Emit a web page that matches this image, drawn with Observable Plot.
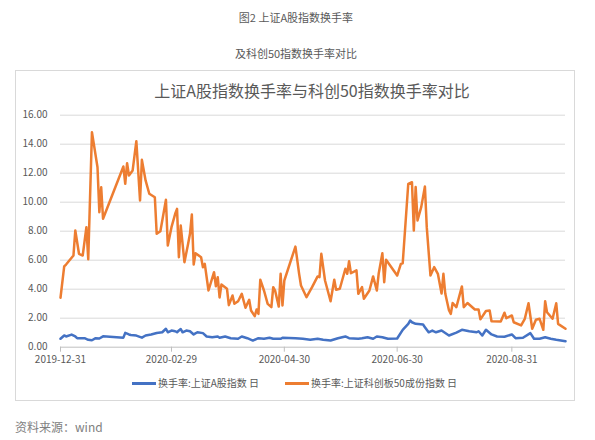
<!DOCTYPE html>
<html>
<head>
<meta charset="utf-8">
<script src="https://cdn.jsdelivr.net/npm/d3@7"></script>
<script src="https://cdn.jsdelivr.net/npm/@observablehq/plot@0.6"></script>
<style>
  html, body { margin: 0; padding: 0; background: #fff; }
  body { width: 595px; height: 440px; position: relative; overflow: hidden;
         font-family: "Noto Sans CJK SC", "Noto Sans", sans-serif; color: #595959; }
  .abs { position: absolute; white-space: nowrap; }
  #cap1, #cap2 { left: 0; width: 592px; text-align: center; font-size: 11px; line-height: 14px; color: #595959; }
  #cap1 { top: 10px; }
  #cap2 { top: 46px; }
  #frame { left: 15px; top: 70px; width: 558px; height: 329px; border: 1px solid #d9d9d9; }
  #title { left: 0; width: 624px; text-align: center; top: 79px; font-size: 16px; line-height: 22px; color: #595959; }
  #chart { left: 0; top: 100px; }
  .leg { top: 376px; font-size: 10px; line-height: 14px; color: #595959; display: flex; align-items: center; }
  .sw { display: inline-block; width: 24px; height: 3px; margin-right: 2px; }
  #footer { left: 15px; top: 419px; font-size: 12px; line-height: 16px; color: #808080; }
</style>
</head>
<body>
<div id="cap1" class="abs">图2 上证A股指数换手率</div>
<div id="cap2" class="abs">及科创50指数换手率对比</div>
<div id="frame" class="abs"></div>
<div id="title" class="abs">上证A股指数换手率与科创50指数换手率对比</div>
<div id="chart" class="abs"></div>
<div id="leg1" class="abs leg" style="left:132px"><span class="sw" style="background:#4472c4"></span><span id="legText1"></span></div>
<div id="leg2" class="abs leg" style="left:285px"><span class="sw" style="background:#ed7d31"></span><span id="legText2"></span></div>
<div id="footer" class="abs">资料来源：wind</div>
<script>
// ---- data ----
const seriesNames = ["换手率:上证A股指数 日", "换手率:上证科创板50成份指数 日"];
const seriesColors = ["#4472c4", "#ed7d31"];

const yTicks = [0, 2, 4, 6, 8, 10, 12, 14, 16];
const xTickLabels = ["2019-12-31", "2020-02-29", "2020-04-30", "2020-06-30", "2020-08-31"];
const xDomain = ["2019-12-31", "2020-09-29"];

const shDates = ["2019-12-31","2020-01-02","2020-01-03","2020-01-06","2020-01-08","2020-01-09","2020-01-13","2020-01-15","2020-01-17","2020-01-19",
 "2020-01-21","2020-01-23","2020-02-03","2020-02-04","2020-02-06","2020-02-07","2020-02-10","2020-02-13","2020-02-15","2020-02-18",
 "2020-02-21","2020-02-24","2020-02-26","2020-02-27","2020-02-29","2020-03-02","2020-03-03","2020-03-04","2020-03-05","2020-03-06",
 "2020-03-08","2020-03-10","2020-03-12","2020-03-14","2020-03-17","2020-03-19","2020-03-22","2020-03-25","2020-03-26","2020-03-29",
 "2020-04-01","2020-04-05","2020-04-07","2020-04-10","2020-04-13","2020-04-16","2020-04-19","2020-04-22","2020-04-24","2020-04-28",
 "2020-04-29","2020-05-06","2020-05-10","2020-05-14","2020-05-18","2020-05-21","2020-05-25","2020-05-29","2020-06-02","2020-06-04",
 "2020-06-09","2020-06-11","2020-06-14","2020-06-17","2020-06-19","2020-06-22","2020-06-25","2020-06-30","2020-07-03","2020-07-06",
 "2020-07-07","2020-07-08","2020-07-10","2020-07-14","2020-07-15","2020-07-17","2020-07-19","2020-07-21","2020-07-24","2020-07-28",
 "2020-08-01","2020-08-04","2020-08-08","2020-08-12","2020-08-13","2020-08-15","2020-08-17","2020-08-20","2020-08-23","2020-08-27",
 "2020-08-31","2020-09-02","2020-09-06","2020-09-10","2020-09-12","2020-09-15","2020-09-18","2020-09-21","2020-09-24","2020-09-29"];
const shValues = [0.58,0.81,0.74,0.87,0.74,0.62,0.62,0.51,0.48,0.62,
 0.60,0.75,0.66,0.99,0.88,0.84,0.80,0.66,0.81,0.88,
 0.98,1.03,1.27,1.03,1.15,1.10,1.03,1.15,1.25,1.03,
 1.15,1.10,0.88,1.03,0.97,0.74,0.69,0.74,0.65,0.74,
 0.62,0.58,0.74,0.62,0.46,0.62,0.58,0.65,0.58,0.58,
 0.65,0.62,0.58,0.51,0.58,0.51,0.46,0.62,0.74,0.62,
 0.58,0.62,0.69,0.58,0.74,0.69,0.58,0.60,1.20,1.61,
 1.84,1.72,1.61,1.56,1.38,1.03,1.15,1.03,1.15,0.81,
 1.00,1.20,1.10,1.03,1.10,0.81,1.20,0.88,0.74,0.72,
 0.88,0.62,0.65,0.97,0.58,0.58,0.69,0.58,0.51,0.41];

const starDates = ["2019-12-31","2020-01-02","2020-01-03","2020-01-07","2020-01-08","2020-01-10","2020-01-12","2020-01-14","2020-01-15","2020-01-17",
 "2020-01-20","2020-01-21","2020-01-22","2020-01-23","2020-02-03","2020-02-04","2020-02-05","2020-02-06","2020-02-08","2020-02-10",
 "2020-02-12","2020-02-13","2020-02-15","2020-02-17","2020-02-20","2020-02-21","2020-02-23","2020-02-26","2020-02-27","2020-02-29",
 "2020-03-02","2020-03-03","2020-03-04","2020-03-05","2020-03-07","2020-03-09","2020-03-10","2020-03-11","2020-03-12","2020-03-13",
 "2020-03-16","2020-03-17","2020-03-18","2020-03-20","2020-03-23","2020-03-24","2020-03-25","2020-03-26","2020-03-27","2020-03-30",
 "2020-03-31","2020-04-02","2020-04-03","2020-04-05","2020-04-07","2020-04-09","2020-04-11","2020-04-12","2020-04-14","2020-04-15",
 "2020-04-16","2020-04-17","2020-04-19","2020-04-21","2020-04-23","2020-04-24","2020-04-25","2020-04-27","2020-04-28","2020-04-29",
 "2020-04-30","2020-05-06","2020-05-08","2020-05-09","2020-05-12","2020-05-15","2020-05-18","2020-05-19","2020-05-20","2020-05-22",
 "2020-05-25","2020-05-27","2020-05-28","2020-05-30","2020-06-02","2020-06-03","2020-06-04","2020-06-05","2020-06-08","2020-06-09",
 "2020-06-11","2020-06-12","2020-06-15","2020-06-17","2020-06-19","2020-06-20","2020-06-22","2020-06-23","2020-06-24","2020-06-30",
 "2020-07-02","2020-07-03","2020-07-06","2020-07-08","2020-07-09","2020-07-10","2020-07-11","2020-07-13","2020-07-15","2020-07-16",
 "2020-07-18","2020-07-20","2020-07-22","2020-07-24","2020-07-25","2020-07-26","2020-07-28","2020-07-29","2020-07-30","2020-08-01",
 "2020-08-04","2020-08-05","2020-08-07","2020-08-11","2020-08-13","2020-08-14","2020-08-17","2020-08-19","2020-08-20","2020-08-25",
 "2020-08-27","2020-08-28","2020-08-31","2020-09-01","2020-09-05","2020-09-07","2020-09-09","2020-09-11","2020-09-13","2020-09-15",
 "2020-09-17","2020-09-18","2020-09-19","2020-09-22","2020-09-24","2020-09-25","2020-09-29"];
const starValues = [3.41,5.57,5.70,6.32,8.05,6.44,6.32,8.28,6.07,14.83,
 12.41,9.31,11.03,8.86,12.46,11.27,12.69,11.84,12.19,14.21,
 10.12,12.92,11.50,10.58,10.34,7.82,8.00,10.17,7.01,8.28,
 9.20,9.54,6.21,8.39,5.86,7.13,7.82,9.15,5.70,6.48,
 6.21,5.52,5.75,3.91,5.17,4.20,4.83,3.43,4.32,4.03,
 2.90,3.57,2.99,3.17,3.68,2.72,3.27,2.53,2.14,2.60,
 2.30,4.65,3.91,2.99,2.76,4.14,3.91,2.80,5.06,2.88,
 4.60,6.94,5.06,4.26,3.45,4.14,4.88,4.83,6.44,4.60,
 3.17,4.65,3.96,4.03,5.41,5.06,5.93,5.10,5.30,3.68,
 4.14,3.34,3.91,4.88,3.91,5.06,6.48,4.48,6.03,4.94,
 5.75,5.79,11.27,11.38,8.05,11.05,8.74,9.66,11.08,8.28,
 4.94,5.52,5.06,3.70,5.06,3.70,2.55,2.30,3.05,2.76,
 4.19,2.76,3.05,2.60,2.60,1.92,2.50,2.53,1.79,1.78,
 2.38,2.00,2.19,1.72,1.50,1.96,3.03,1.27,1.89,1.96,
 1.20,3.17,2.41,1.96,3.03,1.61,1.27];

// ---- build ----
const parse = d3.utcParse("%Y-%m-%d");
const sh = shDates.map((d, i) => ({date: parse(d), value: shValues[i]}));
const star = starDates.map((d, i) => ({date: parse(d), value: starValues[i]}));

document.getElementById("legText1").textContent = seriesNames[0];
document.getElementById("legText2").textContent = seriesNames[1];

const chart = Plot.plot({
  width: 595,
  height: 275,
  marginLeft: 60,
  marginRight: 30,
  marginTop: 14.7,
  marginBottom: 28.3,
  style: {fontFamily: "'Noto Sans CJK SC', 'Noto Sans', sans-serif", background: "transparent", overflow: "visible"},
  x: {type: "utc", domain: xDomain.map(parse), label: null},
  y: {domain: [0, 16], label: null},
  marks: [
    Plot.ruleY(yTicks.filter(v => v > 0), {stroke: "#d9d9d9", strokeWidth: 1}),
    Plot.axisY(yTicks, {tickSize: 0, tickPadding: 13, tickFormat: d3.format(".2f"), fill: "#595959", fontSize: 10, label: null}),
    Plot.ruleY([0], {stroke: "#bfbfbf", strokeWidth: 1}),
    Plot.axisX(xTickLabels.map(parse), {tickSize: 5, tickPadding: 4, tickFormat: d3.utcFormat("%Y-%m-%d"), stroke: "#bfbfbf", fill: "#595959", fontSize: 10, label: null}),
    Plot.lineY(sh, {x: "date", y: "value", stroke: seriesColors[0], strokeWidth: 2.5, strokeLinejoin: "round"}),
    Plot.lineY(star, {x: "date", y: "value", stroke: seriesColors[1], strokeWidth: 2.5, strokeLinejoin: "round"})
  ]
});
document.getElementById("chart").appendChild(chart);
</script>
</body>
</html>
